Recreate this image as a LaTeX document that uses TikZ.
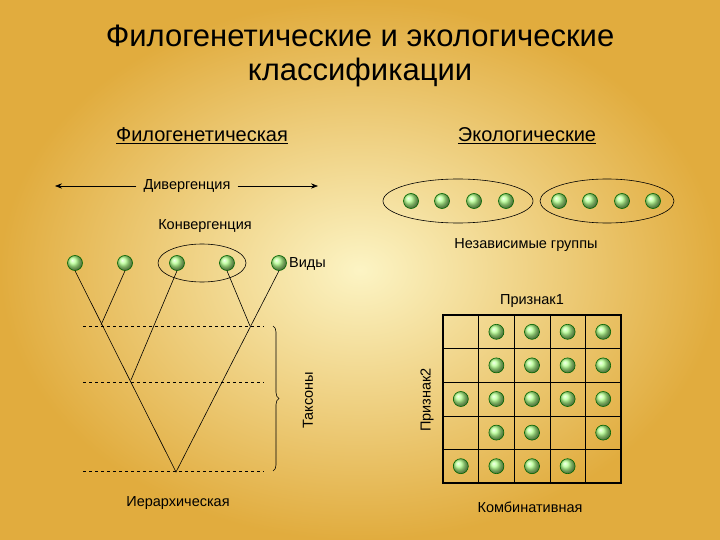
\documentclass[tikz,border=0pt]{standalone}
\usepackage{fontspec}
\setmainfont{Liberation Sans}
\usetikzlibrary{decorations.pathreplacing,arrows.meta,shapes.geometric}
\begin{document}
\begin{tikzpicture}[x=1pt,y=-1pt,
  ball/.style={circle,minimum size=15pt,inner sep=0pt,draw=black!60!green,ball color=green!35!white!85!yellow,line width=0.6pt},
  lbl/.style={font=\fontsize{14.5}{16}\selectfont,inner sep=1pt},
  hd/.style={font=\fontsize{20}{22}\selectfont},
  thin/.style={line width=0.6pt},
  dsh/.style={dashed,line width=0.5pt}]
\shade[inner color={rgb,255:red,252;green,244;blue,196},outer color={rgb,255:red,225;green,172;blue,62}] (0,0) rectangle (720,540);
\useasboundingbox (0,0) rectangle (720,540);
\node[font=\fontsize{31}{34}\selectfont,align=center] (title) at (360,56) {Филогенетические и экологические\\классификации};
\node[hd] (phyl) at (202,136) {\underline{Филогенетическая}};
\node[hd] (eco) at (527,136) {\underline{Экологические}};
\node[lbl] (div) at (187,186) {Дивергенция};
\coordinate (dl) at (55,186); \coordinate (dr) at (318,186);
\draw[thin,-{Stealth[length=7pt]}] (div.west) ++(-6,0) -- (dl);
\draw[thin,-{Stealth[length=7pt]}] (div.east) ++(6,0) -- (dr);
\node[lbl] (conv) at (205,226) {Конвергенция};
% right ellipses
\node[draw,thin,ellipse,minimum width=150pt,minimum height=44pt] (e1) at (458,201) {};
\node[draw,thin,ellipse,minimum width=134pt,minimum height=44pt] (e2) at (607,201) {};
\foreach \x [count=\i] in {411,442,474,506}{\node[ball] (r\i) at (\x,201) {};}
\foreach \x [count=\i] in {559,590,622,653}{\node[ball] (s\i) at (\x,201) {};}
\node[lbl] (indep) at (526,245) {Независимые группы};
% tree
\node[draw,thin,ellipse,minimum width=88pt,minimum height=38pt] (conve) at (202,263) {};
\foreach \x [count=\i] in {75,125,177,227,279}{\node[ball] (v\i) at (\x,263) {};}
\node[lbl,anchor=west] (vidy) at (288,264) {Виды};
\coordinate (apex) at (176,472);
\coordinate (j1) at (101,325); \coordinate (j2) at (131,380); \coordinate (j3) at (250,326);
\draw[thin] (v1.south) -- (apex) -- (v5.south);
\draw[thin] (v2.south) -- (j1);
\draw[thin] (v3.south) -- (j2);
\draw[thin] (v4.south) -- (j3);
\foreach \y in {326,382,471}{\draw[dsh] (83,\y) -- (264,\y);}
\draw[thin,decorate,decoration={brace,amplitude=6pt}] (273,326) -- (273,471);
\node[lbl,rotate=90] (tax) at (308,400) {Таксоны};
\node[lbl] (hier) at (178,503) {Иерархическая};
% grid
\draw[line width=1.6pt] (443,315) rectangle (621,483);
\foreach \i in {1,...,4}{
  \draw[thin] (443+35.6*\i,315) -- (443+35.6*\i,483);
  \draw[thin] (443,315+33.6*\i) -- (621,315+33.6*\i);}
\foreach \r/\cols in {1/{2,3,4,5},2/{2,3,4,5},3/{1,2,3,4,5},4/{2,3,5},5/{1,2,3,4}}{
  \foreach \c in \cols {\node[ball] (g\r\c) at (443+35.6*\c-17.8,315+33.6*\r-16.8) {};}}
\node[lbl] (p1) at (532,301) {Признак1};
\node[lbl,rotate=90] (p2) at (427,400) {Признак2};
\node[lbl] (comb) at (530,507) {Комбинативная};
\end{tikzpicture}
\end{document}
